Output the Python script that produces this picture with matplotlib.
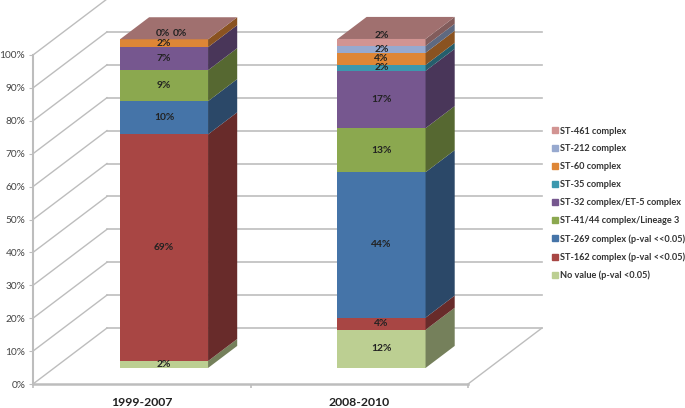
import numpy as np
import matplotlib
matplotlib.use("Agg")
import matplotlib.pyplot as plt
from matplotlib.colors import to_rgb
from matplotlib.patches import Patch

plt.rcParams['font.family'] = ['Lato', 'DejaVu Sans']

periods = ["1999-2007", "2008-2010"]
series_names = ["No value (p-val <0.05)", "ST-162 complex (p-val <<0.05)",
                "ST-269 complex (p-val <<0.05)", "ST-41/44 complex/Lineage 3",
                "ST-32 complex/ET-5 complex", "ST-35 complex", "ST-60 complex",
                "ST-212 complex", "ST-461 complex"]
values_1999 = [2.1, 68.9, 10.1, 9.4, 7.0, 0.0, 2.4, 0.0, 0.0]
values_2008 = [11.6, 3.7, 44.2, 13.4, 17.4, 1.8, 3.7, 2.1, 2.1]
colors = ["#BCCF92", "#A84644", "#4574A8", "#8BA84F", "#76578F",
          "#3C98AE", "#DE8636", "#97A9CF", "#D29492"]

W, H = 685, 408
X0, X1, Y0, Y1 = 33, 468, 384, 55
WALL_DX, WALL_DY = 74, 56   # px shift of the back wall
px_x = (X1 - X0) / 2.0
px_y = (Y0 - Y1) / 100.0
DEPTH_FRONT, DEPTH_BACK = 0.286, 0.68
BAR_W = 0.405
GRID = "#BDBDBD"


def shift(x, y, d):
    # oblique projection: d=0 front plane, d=1 back wall
    return x + d * WALL_DX / px_x, y + d * WALL_DY / px_y


def darker(c, f):
    return tuple(v * f for v in to_rgb(c))


fig = plt.figure(figsize=(W / 100, H / 100), dpi=100)
ax = fig.add_axes([X0 / W, 1 - Y0 / H, (X1 - X0) / W, (Y0 - Y1) / H])
ax.set_xlim(0, 2)
ax.set_ylim(0, 100)
for s in ["top", "right"]:
    ax.spines[s].set_visible(False)
for s in ["left", "bottom"]:
    ax.spines[s].set_color(GRID)
ax.spines["bottom"].set_linewidth(1.8)
ax.spines["left"].set_linewidth(1.5)

ax.set_yticks(np.arange(0, 101, 10))
ax.set_yticklabels([f"{v}%" for v in range(0, 101, 10)], fontsize=7.3, color="#444444")
ax.tick_params(axis="y", length=3, color=GRID, pad=2.5)
ax.set_xticks([0, 1, 2])
ax.set_xticklabels([])
ax.tick_params(axis="x", length=3, width=1.2, color=GRID)
ax.set_xticks([0.5, 1.5], minor=True)
ax.set_xticklabels(periods, minor=True, fontsize=8.8, fontweight="bold", color="#222222")
ax.tick_params(axis="x", which="minor", length=0, pad=9)

# walls and floor
for v in range(0, 101, 10):
    bx, by = shift(0, v, 1)
    ex, ey = shift(2, v, 1)
    ax.plot([0, bx], [v, by], color=GRID, lw=1.0, clip_on=False, zorder=1)
    ax.plot([bx, ex], [by, ey], color=GRID, lw=1.2, clip_on=False, zorder=1)
ex, ey = shift(2, 0, 1)
ax.plot([2, ex], [0, ey], color=GRID, lw=1.0, clip_on=False, zorder=1)

label_nudge = {(0, 8): (16, 6), (0, 7): (-1, 6), (1, 8): (0, 6.5)}
hidden_labels = {(0, 5)}

for b, vals in enumerate([values_1999, values_2008]):
    centre = b + 0.505
    left, right = centre - BAR_W / 2, centre + BAR_W / 2
    base = 0.0
    for i, v in enumerate(vals):
        top = base + v
        lx, by0 = shift(left, base, DEPTH_FRONT)
        rx, _ = shift(right, base, DEPTH_FRONT)
        _, ty0 = shift(left, top, DEPTH_FRONT)
        rbx, by1 = shift(right, base, DEPTH_BACK)
        _, ty1 = shift(right, top, DEPTH_BACK)
        if v > 0:
            ax.bar((lx + rx) / 2, ty0 - by0, rx - lx, by0, color=colors[i], zorder=3,
                   clip_on=False, linewidth=0)
            ax.fill([rx, rbx, rbx, rx], [by0, by1, ty1, ty0], color=darker(colors[i], 0.62),
                    zorder=3, clip_on=False, linewidth=0)
        if (b, i) not in hidden_labels:
            nx, ny = label_nudge.get((b, i), (0, 0))
            ax.annotate(f"{round(v)}%", ((lx + rx) / 2, (by0 + ty0) / 2), xytext=(nx, ny),
                        textcoords="offset pixels", ha="center", va="center", fontsize=7.4,
                        fontweight="bold", color="#222222", zorder=5, annotation_clip=False)
        base = top
    # bar lid
    lx, y0 = shift(left, base, DEPTH_FRONT)
    rx, _ = shift(right, base, DEPTH_FRONT)
    lbx, y1 = shift(left, base, DEPTH_BACK)
    rbx, _ = shift(right, base, DEPTH_BACK)
    ax.fill([lx, rx, rbx, lbx], [y0, y0, y1, y1], color=darker(colors[-1], 0.76),
            zorder=4, clip_on=False, linewidth=0)

handles = [Patch(color=c, label=n) for c, n in zip(colors, series_names)]
fig.legend(handles=handles[::-1], loc="upper left", bbox_to_anchor=(552 / W, 1 - 126.5 / H),
           frameon=False, handlelength=0.65, handleheight=0.65, handletextpad=0.2,
           labelspacing=0.98, borderaxespad=0, borderpad=0,
           prop={"size": 6.55, "weight": "bold"}, labelcolor="#333333")

fig.savefig("out.png", dpi=100)
